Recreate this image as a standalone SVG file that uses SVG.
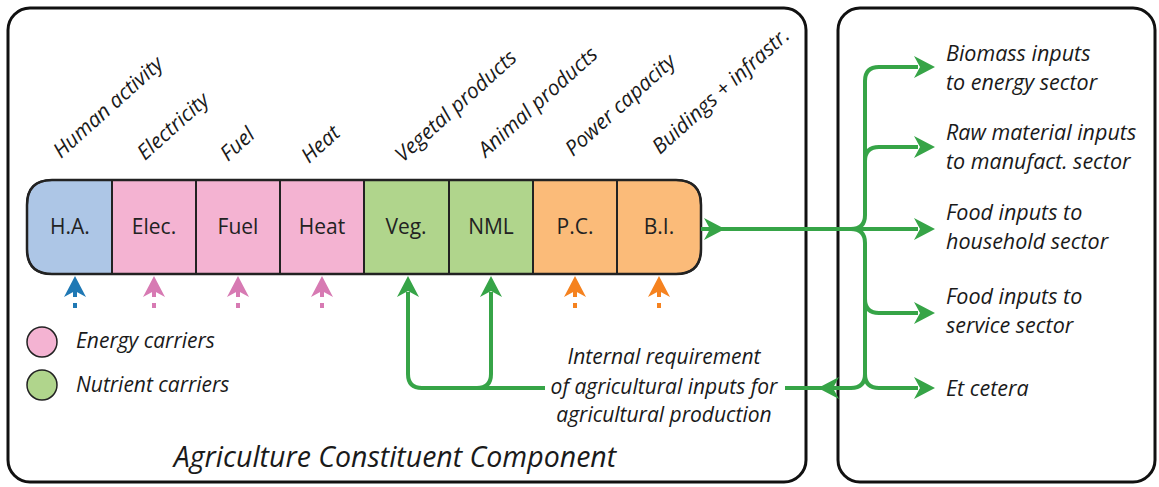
<svg xmlns="http://www.w3.org/2000/svg" xmlns:xlink="http://www.w3.org/1999/xlink" width="1159" height="487" viewBox="0 0 1159 487">
  <style>
    .frame { fill: #ffffff; stroke: #111111; stroke-width: 3; }
    .cell { stroke: #222222; stroke-width: 2; }
    .ha { fill: #adc6e6; }
    .en { fill: #f4b3d2; }
    .nu { fill: #b0d58c; }
    .pw { fill: #fbbb79; }
    .lbl { font-family: "Open Sans", "DejaVu Sans", sans-serif; font-size: 21px; fill: #222222; text-anchor: middle; }
    .it { font-family: "Open Sans", "DejaVu Sans", sans-serif; font-style: italic; fill: #1a1a1a; }
    .head { font-size: 21px; }
    .leg { font-size: 21px; }
    .dest { font-size: 21.5px; }
    .note { font-size: 21px; text-anchor: middle; }
    .title { font-size: 28.5px; text-anchor: middle; }
    .flow { fill: none; stroke: #36a447; stroke-width: 4; }
    .green { fill: #36a447; }
    .blue { fill: #1f78b4; }
    .pink { fill: #d77ab3; }
    .orange { fill: #f5821f; }
  </style>
  <defs>
    <!-- notched arrowhead, tip at the origin, pointing right -->
    <path id="ah" d="M0 0 L-21 -11 L-15 0 L-21 11 Z"/>
    <!-- small external-input arrow: head pointing up plus a short dash below -->
    <g id="inp">
      <use xlink:href="#ah" transform="rotate(-90)"/>
      <rect x="-2" y="14" width="4" height="7"/>
      <rect x="-2" y="27" width="4" height="5"/>
    </g>
  </defs>

  <!-- outer panels -->
  <rect class="frame" x="8" y="8" width="798" height="474" rx="22"/>
  <rect class="frame" x="838" y="8" width="317" height="474" rx="22"/>

  <!-- column headings -->
  <g class="it head">
    <text transform="translate(61,159) rotate(-42)">Human activity</text>
    <text transform="translate(145,161) rotate(-42)">Electricity</text>
    <text transform="translate(228,162) rotate(-42)">Fuel</text>
    <text transform="translate(309,164) rotate(-42)">Heat</text>
    <text transform="translate(403,163) rotate(-42)">Vegetal products</text>
    <text transform="translate(486,158) rotate(-42)">Animal products</text>
    <text transform="translate(573,157) rotate(-42)">Power capacity</text>
    <text transform="translate(660,155) rotate(-42)">Buidings + infrastr.</text>
  </g>

  <!-- component bar -->
  <g id="ha-cell">
    <path class="cell ha" d="M112 180 H52 Q27 180 27 205 V249 Q27 274 52 274 H112 Z"/>
    <text class="lbl" x="70" y="234">H.A.</text>
  </g>
  <g id="elec-cell">
    <rect class="cell en" x="112" y="180" width="84" height="94"/>
    <text class="lbl" x="154" y="234">Elec.</text>
  </g>
  <g id="fuel-cell">
    <rect class="cell en" x="196" y="180" width="84" height="94"/>
    <text class="lbl" x="238" y="234">Fuel</text>
  </g>
  <g id="heat-cell">
    <rect class="cell en" x="280" y="180" width="84" height="94"/>
    <text class="lbl" x="322" y="234">Heat</text>
  </g>
  <g id="veg-cell">
    <rect class="cell nu" x="364" y="180" width="85" height="94"/>
    <text class="lbl" x="406" y="234">Veg.</text>
  </g>
  <g id="nml-cell">
    <rect class="cell nu" x="449" y="180" width="84" height="94"/>
    <text class="lbl" x="491" y="234">NML</text>
  </g>
  <g id="pc-cell">
    <rect class="cell pw" x="533" y="180" width="84" height="94"/>
    <text class="lbl" x="575" y="234">P.C.</text>
  </g>
  <g id="bi-cell">
    <path class="cell pw" d="M617 180 H676 Q701 180 701 205 V249 Q701 274 676 274 H617 Z"/>
    <text class="lbl" x="659" y="234">B.I.</text>
  </g>
  <path d="M52 180 H676 Q701 180 701 205 V249 Q701 274 676 274 H52 Q27 274 27 249 V205 Q27 180 52 180 Z" fill="none" stroke="#222222" stroke-width="2.5"/>

  <!-- external inputs -->
  <g id="inputs">
    <use xlink:href="#inp" class="blue" transform="translate(75,276)"/>
    <use xlink:href="#inp" class="pink" transform="translate(154,276)"/>
    <use xlink:href="#inp" class="pink" transform="translate(238,276)"/>
    <use xlink:href="#inp" class="pink" transform="translate(322,276)"/>
    <use xlink:href="#inp" class="orange" transform="translate(575,276)"/>
    <use xlink:href="#inp" class="orange" transform="translate(659,276)"/>
  </g>

  <!-- legend -->
  <g id="legend-energy">
    <circle cx="42" cy="342" r="15" fill="#f4b3d2" stroke="#222222" stroke-width="1.5"/>
    <text class="it leg" x="76" y="348">Energy carriers</text>
  </g>
  <g id="legend-nutrient">
    <circle cx="42" cy="385" r="15" fill="#b0d58c" stroke="#222222" stroke-width="1.5"/>
    <text class="it leg" x="76" y="392">Nutrient carriers</text>
  </g>

  <!-- output flows -->
  <g id="connectors">
    <path class="flow" d="M701 229 H918"/>
    <path class="flow" d="M851 229 Q865 229 865 215 V81 Q865 67 879 67 H918"/>
    <path class="flow" d="M865 161 Q865 147 879 147 H918"/>
    <path class="flow" d="M851 229 Q865 229 865 243 V374 Q865 388 879 388 H918"/>
    <path class="flow" d="M865 299 Q865 313 879 313 H918"/>
    <path class="flow" d="M865 374 Q865 388 851 388 H785"/>
    <path class="flow" d="M545 388 H422 Q408 388 408 374 V292"/>
    <path class="flow" d="M477 388 Q491 388 491 374 V292"/>
    <g class="green">
      <use xlink:href="#ah" transform="translate(725,229)"/>
      <use xlink:href="#ah" transform="translate(935,67)"/>
      <use xlink:href="#ah" transform="translate(935,147)"/>
      <use xlink:href="#ah" transform="translate(935,229)"/>
      <use xlink:href="#ah" transform="translate(935,313)"/>
      <use xlink:href="#ah" transform="translate(935,388)"/>
      <use xlink:href="#ah" transform="translate(818,388) rotate(180)"/>
      <use xlink:href="#ah" transform="translate(408,276) rotate(-90)"/>
      <use xlink:href="#ah" transform="translate(491,276) rotate(-90)"/>
    </g>
  </g>

  <!-- internal loop label -->
  <g id="internal-label" class="it note">
    <text x="664" y="364">Internal requirement</text>
    <text x="664" y="394">of agricultural inputs for</text>
    <text x="664" y="422">agricultural production</text>
  </g>

  <!-- destination sectors -->
  <g id="dest-energy" class="it dest"><text x="946" y="61">Biomass inputs</text><text x="946" y="90">to energy sector</text></g>
  <g id="dest-manufact" class="it dest"><text x="946" y="140">Raw material inputs</text><text x="946" y="169">to manufact. sector</text></g>
  <g id="dest-household" class="it dest"><text x="946" y="220">Food inputs to</text><text x="946" y="249">household sector</text></g>
  <g id="dest-service" class="it dest"><text x="946" y="304">Food inputs to</text><text x="946" y="333">service sector</text></g>
  <g id="dest-other" class="it dest"><text x="946" y="396">Et cetera</text></g>

  <!-- panel title -->
  <text class="it title" x="395" y="467">Agriculture Constituent Component</text>
</svg>
